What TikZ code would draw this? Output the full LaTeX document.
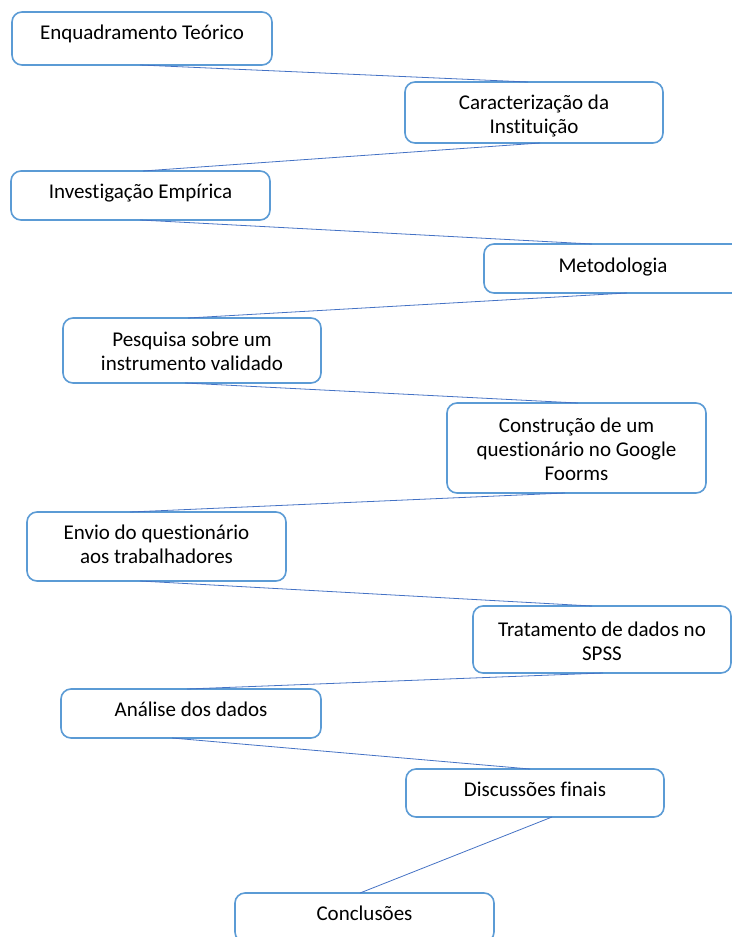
\documentclass[tikz,border=0pt]{standalone}
\usepackage{fontspec}
\setmainfont{Carlito}[Ligatures={NoCommon}]
\definecolor{boxblue}{HTML}{5B9BD5}
\definecolor{lineblue}{HTML}{4472C4}
\begin{document}
\begin{tikzpicture}[x=1pt,y=-1pt,
  box/.style={draw=boxblue, line width=1.6pt, rounded corners=10pt, outer sep=0pt, inner sep=0pt},
  txt/.style={font=\fontsize{21}{24}\selectfont, align=center, anchor=base, inner sep=0pt},
  link/.style={draw=lineblue, line width=0.8pt}]
\useasboundingbox (0,0) rectangle (731,937);
% boxes
\node[box, minimum width=260, minimum height=53] (b1) at (142,38.5) {};
\node[box, minimum width=258, minimum height=61] (b2) at (534,112.5) {};
\node[box, minimum width=259, minimum height=49] (b3) at (140.5,195.5) {};
\node[box, minimum width=258, minimum height=49] (b4) at (613,268.5) {};
\node[box, minimum width=258, minimum height=65] (b5) at (192,350.5) {};
\node[box, minimum width=259, minimum height=90] (b6) at (576.5,448) {};
\node[box, minimum width=259, minimum height=69] (b7) at (156.5,546.5) {};
\node[box, minimum width=258, minimum height=67] (b8) at (602,639.5) {};
\node[box, minimum width=260, minimum height=49] (b9) at (191,713.5) {};
\node[box, minimum width=258, minimum height=48] (b10) at (535,793) {};
\node[box, minimum width=259, minimum height=49] (b11) at (364.5,917.5) {};
% texts (anchor base = baseline of the last line)
\node[txt] (t1) at (142,39.3) {Enquadramento Teórico};
\node[txt] (t2) at (534,133.3) {Caracterização da\\Instituição};
\node[txt] (t3) at (140.5,198.3) {Investigação Empírica};
\node[txt] (t4) at (613,272.3) {Metodologia};
\node[txt] (t5) at (192,370.3) {Pesquisa sobre um\\instrumento validado};
\node[txt] (t6) at (576.5,480.3) {Construção de um\\questionário no Google\\Foorms};
\node[txt] (t7) at (156.5,563.3) {Envio do questionário\\aos trabalhadores};
\node[txt] (t8) at (602,660.3) {Tratamento de dados no\\SPSS};
\node[txt] (t9) at (191,716.3) {Análise dos dados};
\node[txt] (t10) at (535,796.3) {Discussões finais};
\node[txt] (t11) at (364.5,920.3) {Conclusões};
% connectors
\draw[link] ([xshift=-2pt]b1.south) -- ([xshift=-6pt]b2.north);
\draw[link] ([xshift=6pt]b2.south) -- ([xshift=2.5pt]b3.north);
\draw[link] ([xshift=-0.5pt]b3.south) -- ([xshift=-21pt]b4.north);
\draw[link] ([xshift=14pt]b4.south) -- ([xshift=-4pt]b5.north);
\draw[link] ([xshift=-7pt]b5.south) -- ([xshift=1.5pt]b6.north);
\draw[link] ([xshift=-11.5pt]b6.south) -- ([xshift=-26.5pt]b7.north);
\draw[link] ([xshift=-16.5pt]b7.south) -- ([xshift=-10pt]b8.north);
\draw[link] ([xshift=1pt]b8.south) -- ([xshift=-4pt]b9.north);
\draw[link] ([xshift=-19pt]b9.south) -- ([xshift=-5pt]b10.north);
\draw[link] ([xshift=17pt]b10.south) -- ([xshift=-4.5pt]b11.north);
\end{tikzpicture}
\end{document}
